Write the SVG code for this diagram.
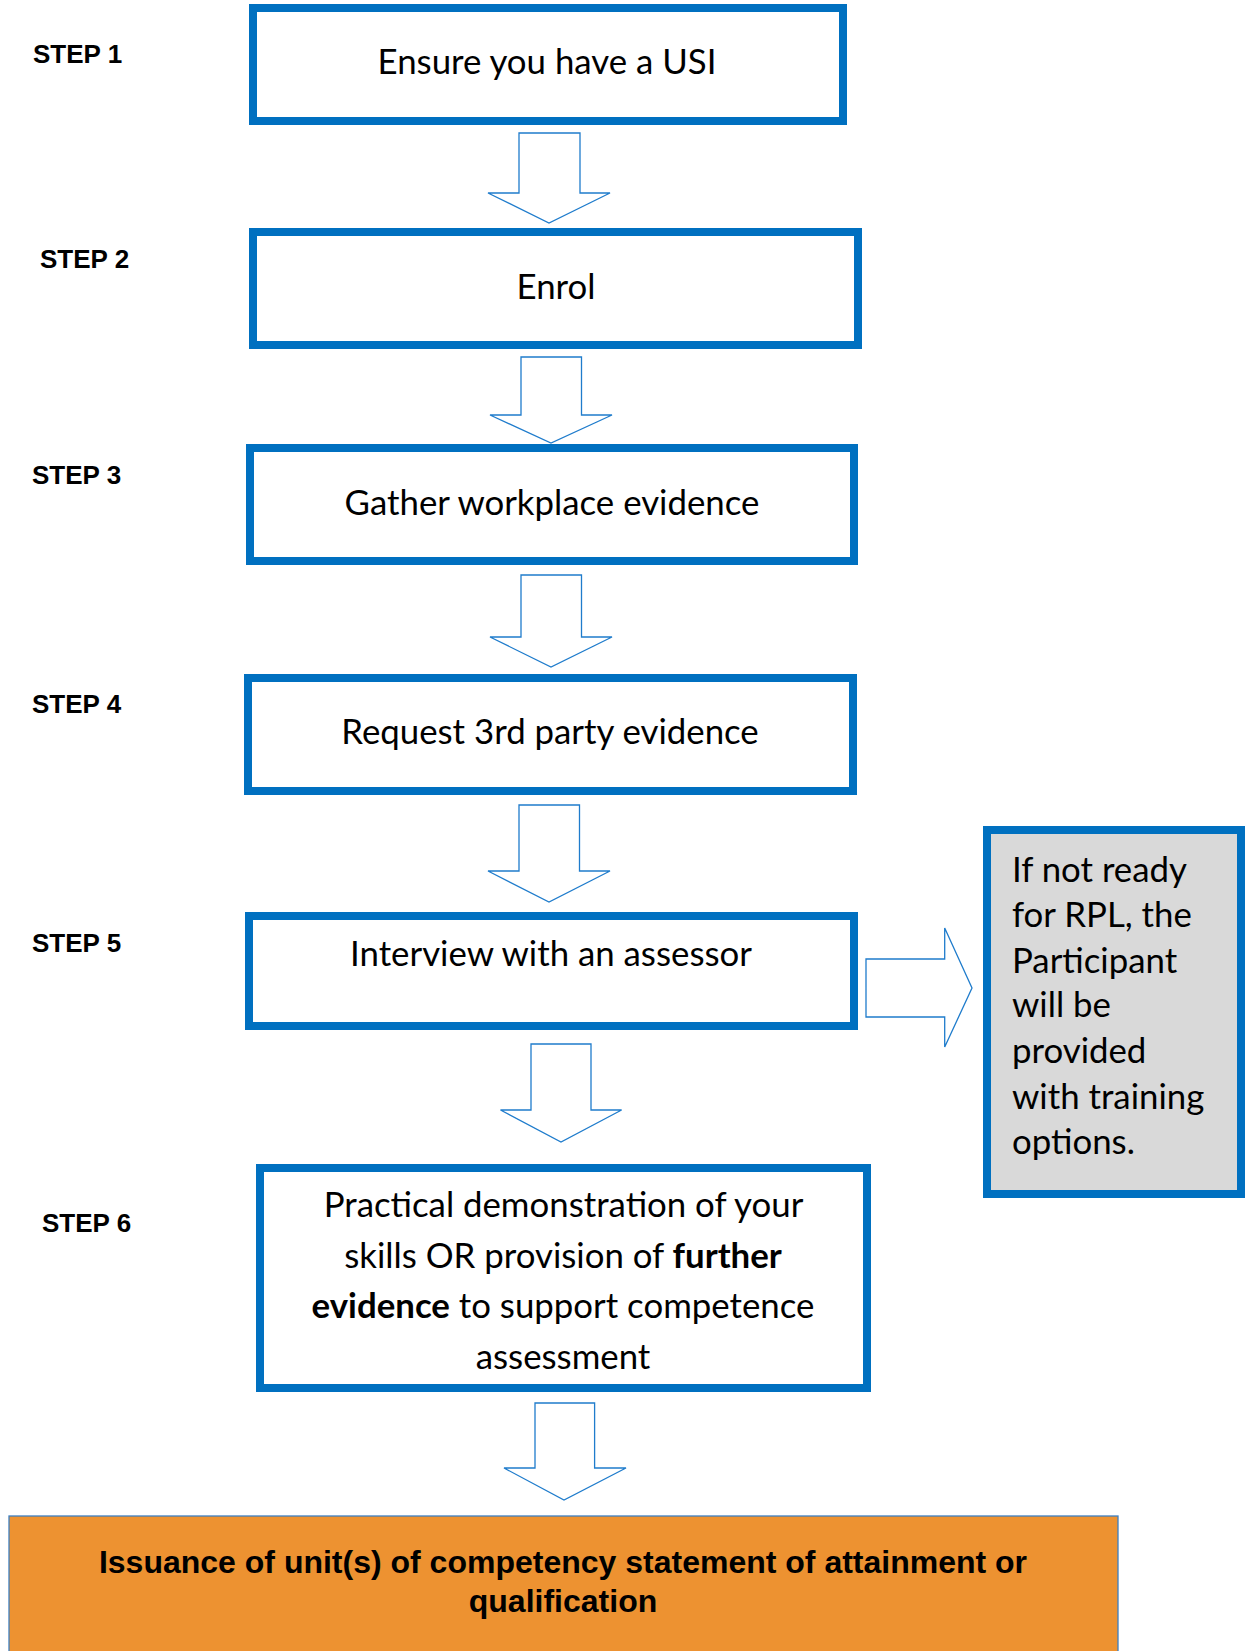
<svg xmlns="http://www.w3.org/2000/svg" width="1248" height="1651" viewBox="0 0 1248 1651">
<style>
.box{fill:#ffffff;stroke:#0070c0;stroke-width:8}
.gray{fill:#d9d9d9;stroke:#0070c0;stroke-width:8}
.arr{fill:#ffffff;stroke:#1f7ccc;stroke-width:1.3;stroke-linejoin:miter}
.step{font-family:"Liberation Sans",Arial,sans-serif;font-weight:bold;font-size:26px;fill:#000}
.t{font-family:Lato,"Open Sans",sans-serif;font-size:34.8px;fill:#000;text-anchor:middle}
.tl{font-family:Lato,"Open Sans",sans-serif;font-size:34.8px;fill:#000}
.b{font-weight:bold}
.out{font-family:"Liberation Sans",Arial,sans-serif;font-weight:bold;font-size:32px;fill:#000;text-anchor:middle}
</style>
<rect width="1248" height="1651" fill="#ffffff"/>
<g id="labels">
<text class="step" x="33" y="63">STEP 1</text>
<text class="step" x="40" y="268">STEP 2</text>
<text class="step" x="32" y="484">STEP 3</text>
<text class="step" x="32" y="713">STEP 4</text>
<text class="step" x="32" y="952">STEP 5</text>
<text class="step" x="42" y="1232">STEP 6</text>
</g>
<g id="connectors">
<polygon class="arr" points="519,133 580,133 580,193 610,193 549,223 488,193 519,193"/>
<polygon class="arr" points="521,357 581.5,357 581.5,415 612,415 551,443 490,415 521,415"/>
<polygon class="arr" points="521,575 581.5,575 581.5,637 612,637 551,667 490,637 521,637"/>
<polygon class="arr" points="519,805 579.5,805 579.5,871 610,871 549,902 488,871 519,871"/>
<polygon class="arr" points="531,1044 591,1044 591,1110 621.6,1110 561,1142 500.5,1110 531,1110"/>
<polygon class="arr" points="535,1403 594.6,1403 594.6,1468 626,1468 564,1500 504,1468 535,1468"/>
<polygon class="arr" points="866,959 944.7,959 944.7,928 972,988 944.7,1047 944.7,1017 866,1017"/>
</g>
<g id="step1">
<rect class="box" x="253" y="8" width="590" height="113"/>
<text class="t" x="547" y="74">Ensure you have a USI</text>
</g>
<g id="step2">
<rect class="box" x="253" y="232" width="605" height="113"/>
<text class="t" x="556" y="299">Enrol</text>
</g>
<g id="step3">
<rect class="box" x="250" y="448" width="604" height="113"/>
<text class="t" x="552" y="515">Gather workplace evidence</text>
</g>
<g id="step4">
<rect class="box" x="248" y="678" width="605" height="113"/>
<text class="t" x="550" y="744">Request 3rd party evidence</text>
</g>
<g id="step5">
<rect class="box" x="249" y="916" width="605" height="110"/>
<text class="t" x="551" y="966">Interview with an assessor</text>
</g>
<g id="not-ready">
<rect class="gray" x="987" y="830" width="254" height="364"/>
<text class="tl" x="1012" y="882">If not ready</text>
<text class="tl" x="1012" y="927">for RPL, the</text>
<text class="tl" x="1012" y="973">Participant</text>
<text class="tl" x="1012" y="1017">will be</text>
<text class="tl" x="1012" y="1063">provided</text>
<text class="tl" x="1012" y="1109">with training</text>
<text class="tl" x="1012" y="1154">options.</text>
</g>
<g id="step6">
<rect class="box" x="260" y="1168" width="607" height="220"/>
<text class="t" x="563.5" y="1217">Practical demonstration of your</text>
<text class="t" x="563" y="1268">skills OR provision of <tspan class="b">further</tspan></text>
<text class="t" x="563" y="1318"><tspan class="b">evidence</tspan> to support competence</text>
<text class="t" x="563" y="1369">assessment</text>
</g>
<g id="outcome">
<rect x="9" y="1516" width="1109" height="150" fill="#ed9231" stroke="#3d7fc1" stroke-width="1.3"/>
<text class="out" x="563" y="1573">Issuance of unit(s) of competency statement of attainment or</text>
<text class="out" x="563" y="1612">qualification</text>
</g>
</svg>
